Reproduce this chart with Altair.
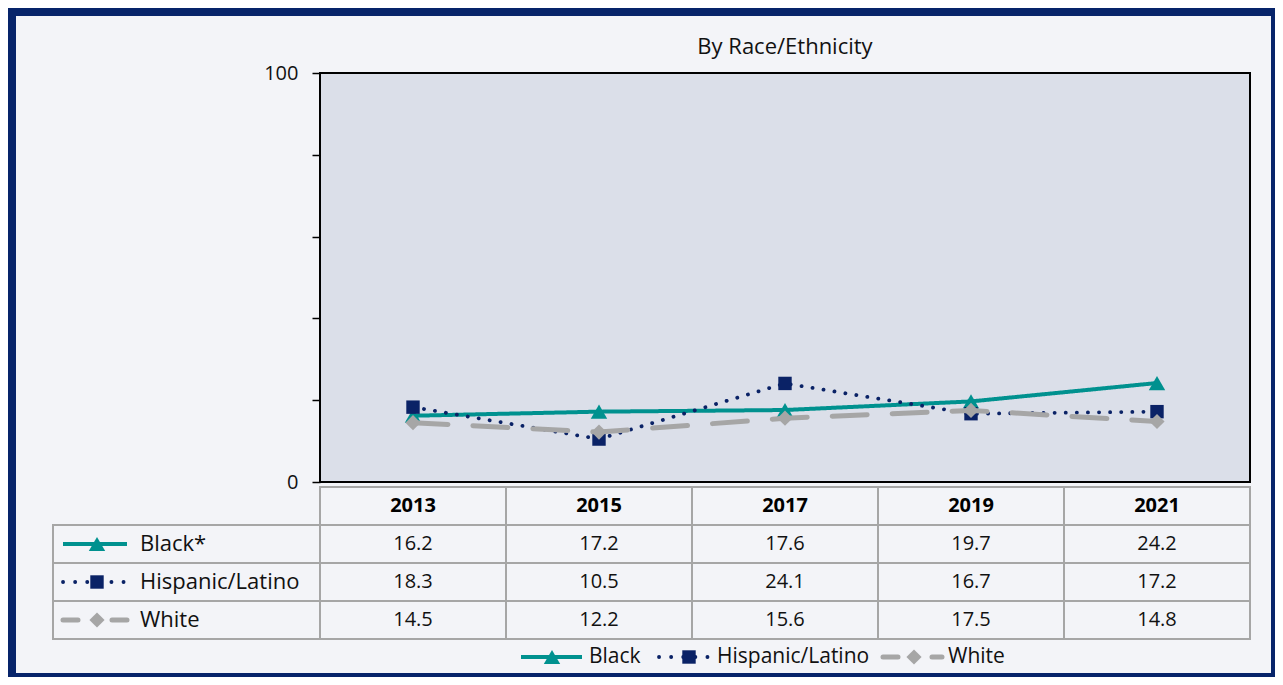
import altair as alt
import pandas as pd

# ---------------- data ----------------
years = ["2013", "2015", "2017", "2019", "2021"]
series = ["Black", "Hispanic/Latino", "White"]
row_labels = ["Black*", "Hispanic/Latino", "White"]
black = [16.2, 17.2, 17.6, 19.7, 24.2]
hispanic = [18.3, 10.5, 24.1, 16.7, 17.2]
white = [14.5, 12.2, 15.6, 17.5, 14.8]
y_ticks = [0, 20, 40, 60, 80, 100]
y_labelled = [0, 100]
title_text = "By Race/Ethnicity"
header_key = "Year"

values = {"Black": black, "Hispanic/Latino": hispanic, "White": white}
row_of = dict(zip(series, row_labels))

records = []
for s in series:
    for yr, v in zip(years, values[s]):
        records.append({"year": yr, "series": s, "row": row_of[s], "value": v})
df = pd.DataFrame(records)
header_df = pd.DataFrame({"year": years, "row": [header_key] * len(years)})
cells_df = pd.concat([header_df, df[["year", "row"]]], ignore_index=True)
label_df = pd.DataFrame({"series": series, "row": row_labels})
title_df = pd.DataFrame({"title": [title_text]})

# ---------------- styles / layout ----------------
FONT = "Open Sans"
NAVY_FRAME = "#07246A"
BG = "#F3F4F8"
PLOT_BG = "#DBDFE9"
GRID = "#A6A6A6"
COLORS = {"Black": "#00918F", "Hispanic/Latino": "#0A2266", "White": "#A6A6A6"}
SHAPES = {"Black": "triangle-up", "Hispanic/Latino": "square", "White": "diamond"}
SIZES = {"Black": 270, "Hispanic/Latino": 180, "White": 230}
WIDTHS = {"Black": 4, "Hispanic/Latino": 3.8, "White": 5}
DASH_LINE = {"Black": [1, 0], "Hispanic/Latino": [0.1, 11], "White": [35, 25]}
DASH_KEY = {"Black": [1, 0], "Hispanic/Latino": [0.1, 12], "White": [15, 34]}
CAPS = {"Black": "butt", "Hispanic/Latino": "round", "White": "round"}

PLOT_W, PLOT_H = 930, 409
PAD = {"left": 312, "top": 65, "right": 25, "bottom": 195}
CANVAS_W = PAD["left"] + PLOT_W + PAD["right"]
CANVAS_H = PAD["top"] + PLOT_H + PAD["bottom"]
TABLE_TOP, TABLE_BOTTOM = 414, 566
LEG_Y = 584

# ---------------- shared encodings ----------------
x_scale = alt.Scale(domain=years, type="band", paddingInner=0, paddingOuter=0)
x_band = alt.X("year:O", scale=x_scale, axis=None)
x_mid = alt.X("year:O", scale=x_scale, axis=None, bandPosition=0.5)

label_expr = " || ".join(f"datum.value == {v}" for v in y_labelled) + " ? datum.label : ''"
y_axis = alt.Axis(values=y_ticks, labelExpr=label_expr, grid=False, domain=False,
                  tickSize=8, tickColor="#000", tickWidth=1.5, labelFont=FONT,
                  labelFontSize=20, labelColor="#111", labelPadding=14, title=None)
y_val_axis = alt.Y("value:Q", scale=alt.Scale(domain=[0, 100], nice=False), axis=y_axis)
y_val = alt.Y("value:Q", scale=alt.Scale(domain=[0, 100], nice=False), axis=None)

row_scale = alt.Scale(domain=[header_key] + row_labels, type="band",
                      range=[TABLE_TOP, TABLE_BOTTOM], paddingInner=0, paddingOuter=0)
y_row = alt.Y("row:N", scale=row_scale, axis=None)
y_row_mid = alt.Y("row:N", scale=row_scale, axis=None, bandPosition=0.5)

layers = []

# outer frame (decoration; right and bottom sides partly cut by the canvas edge)
one = pd.DataFrame({"k": [0]})
layers.append(alt.Chart(one).mark_rect(fillOpacity=0, stroke=NAVY_FRAME, strokeWidth=8).encode(
    x=alt.value(-308), x2=alt.value(CANVAS_W - PAD["left"]),
    y=alt.value(-61), y2=alt.value(CANVAS_H - PAD["top"])))

# title
layers.append(alt.Chart(title_df).mark_text(
    font=FONT, fontSize=22, color="#111", align="center", baseline="middle"
).encode(x=alt.value(PLOT_W / 2), y=alt.value(-26), text="title:N"))

# lines + markers
first = True
for s in series:
    base = alt.Chart(df).transform_filter(alt.datum.series == s)
    layers.append(base.mark_line(color=COLORS[s], strokeWidth=WIDTHS[s], strokeDash=DASH_LINE[s],
                                 strokeCap=CAPS[s]).encode(x=x_mid, y=y_val_axis if first else y_val))
    first = False
    layers.append(base.mark_point(shape=SHAPES[s], size=SIZES[s], filled=True, opacity=1,
                                  color=COLORS[s]).encode(x=x_mid, y=y_val))

# data table
layers.append(alt.Chart(cells_df).mark_rect(fillOpacity=0, stroke=GRID, strokeWidth=2).encode(x=x_band, y=y_row))
layers.append(alt.Chart(label_df).mark_rect(fillOpacity=0, stroke=GRID, strokeWidth=2).encode(
    x=alt.value(-267), x2=alt.value(0), y=y_row))
layers.append(alt.Chart(header_df).mark_text(font=FONT, fontSize=20, fontWeight="bold", color="#000").encode(
    x=x_mid, y=y_row_mid, text="year:N"))
layers.append(alt.Chart(df).mark_text(font=FONT, fontSize=20, color="#111").encode(
    x=x_mid, y=y_row_mid, text=alt.Text("value:Q", format=".1f")))
layers.append(alt.Chart(label_df).mark_text(font=FONT, fontSize=22, align="left", color="#111").encode(
    x=alt.value(-180), y=y_row_mid, text="row:N"))

for s in series:
    base = alt.Chart(label_df).transform_filter(alt.datum.series == s)
    layers.append(base.mark_rule(color=COLORS[s], strokeWidth=WIDTHS[s], strokeDash=DASH_KEY[s],
                                 strokeCap=CAPS[s]).encode(x=alt.value(-257), x2=alt.value(-193), y=y_row_mid))
    layers.append(base.mark_point(shape=SHAPES[s], size=SIZES[s], filled=True, opacity=1,
                                  color=COLORS[s]).encode(x=alt.value(-223), y=y_row_mid))

# bottom legend
leg_pos = {
    "Black": (201, 262, 232, 269),
    "Hispanic/Latino": (339, 392, 369, 397),
    "White": (563, 622, 594, 628),
}
for s in series:
    x1, x2, xm, xt = leg_pos[s]
    base = alt.Chart(label_df).transform_filter(alt.datum.series == s)
    layers.append(base.mark_rule(color=COLORS[s], strokeWidth=WIDTHS[s], strokeDash=DASH_KEY[s],
                                 strokeCap=CAPS[s]).encode(x=alt.value(x1), x2=alt.value(x2), y=alt.value(LEG_Y)))
    layers.append(base.mark_point(shape=SHAPES[s], size=SIZES[s], filled=True, opacity=1,
                                  color=COLORS[s]).encode(x=alt.value(xm), y=alt.value(LEG_Y)))
    layers.append(base.mark_text(font=FONT, fontSize=21, align="left", baseline="middle", color="#111").encode(
        x=alt.value(xt), y=alt.value(LEG_Y), text="series:N"))

chart = alt.layer(*layers).resolve_scale(y="independent").properties(
    width=PLOT_W, height=PLOT_H,
    autosize=alt.AutoSizeParams(type="none"),
    padding=PAD,
    view=alt.ViewBackground(fill=PLOT_BG, stroke="#000", strokeWidth=2),
).configure(background=BG, font=FONT)

chart.save("out.html", embed_options={"renderer": "svg", "actions": False})
